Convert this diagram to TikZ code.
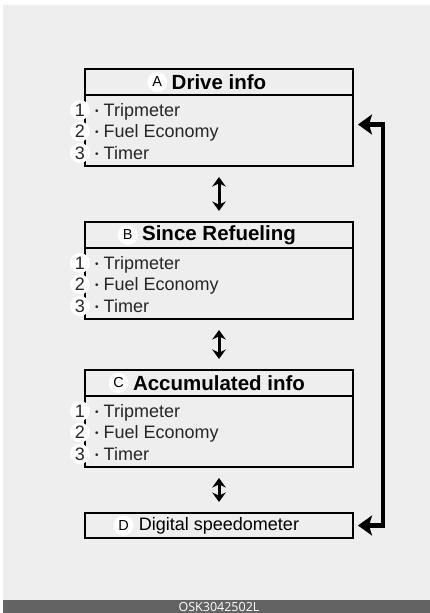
\documentclass[tikz,border=0pt]{standalone}
\usepackage{fontspec}
\setmainfont{Liberation Sans}
\newfontfamily\codefont{Open Sans}
\usetikzlibrary{arrows.meta, positioning}

\definecolor{panelgray}{HTML}{EEEEEE}
\definecolor{bargray}{HTML}{636363}
\newcommand\bul{\raisebox{1.9pt}{\fontsize{10}{10}\selectfont\textbullet}}

\begin{document}
\begin{tikzpicture}[
    x=1pt, y=-1pt, >=Stealth,
    headbox/.style={draw, line width=1.8pt, outer sep=0pt, inner sep=0pt,
                    minimum width=268pt, minimum height=26pt, anchor=north west},
    bodybox/.style={draw, line width=1.8pt, outer sep=0pt, inner sep=0pt,
                    minimum width=268pt, minimum height=71pt, anchor=north},
    tag/.style={circle, fill=white, inner sep=0pt, minimum size=20pt,
                font=\fontsize{14.5}{14.5}\selectfont},
    num/.style={circle, fill=white, inner sep=0pt, minimum size=20pt,
                font=\fontsize{18}{18}\selectfont, text=black!85},
    item/.style={anchor=base west, inner sep=0pt, text=black!85,
                 font=\fontsize{18}{18}\selectfont},
    title/.style={inner sep=0pt, font=\bfseries\fontsize{20.5}{21}\selectfont},
    updown/.style={<->, line width=3pt, shorten <=11pt, shorten >=11pt,
                   >={Stealth[length=9.5pt, width=13.5pt]}},
    feedback/.style={<->, line width=4.5pt,
                     >={Stealth[length=14pt, width=20pt, inset=3pt]}}
  ]
  \useasboundingbox (0,0) rectangle (430,613);
  \fill[panelgray] (3,5) rectangle (430,600);
  \fill[bargray] (3,600) rectangle (430,613);

  % Panels A, B, C
  \foreach \p/\top/\name in {A/69/Drive info, B/222/Since Refueling,
                             C/370/Accumulated info} {
    \node[headbox] (head\p) at (85,\top) {};
    \node[bodybox] (body\p) at (head\p.south) {};
    \node[title] (title\p) at (head\p.center) {\name};
    \node[tag, left=4pt of title\p] (tag\p) {\p};
    \foreach \n/\txt in {1/Tripmeter, 2/Fuel Economy, 3/Timer} {
      \path (body\p.north west) ++(-5, 21.5*\n-6.5) node[num] (num\p\n) {\n};
      \path (body\p.north west) ++(10, 21.5*\n-0.5) node[item] (item\p\n) {\bul\ \txt};
    }
  }

  % Panel D
  \node[headbox, minimum height=25pt] (boxD) at (85,513) {};
  \node[inner sep=0pt, font=\fontsize{18}{18}\selectfont] (titleD) at (boxD.center) {Digital speedometer};
  \node[tag, left=5pt of titleD] (tagD) {D};

  % Switching arrows
  \draw[updown] (bodyA.south) -- (headB.north);
  \draw[updown] (bodyB.south) -- (headC.north);
  \draw[updown] (bodyC.south) -- (boxD.north);

  % Return path
  \coordinate (rail) at (383,0);
  \coordinate (portA) at ([xshift=5pt, yshift=6pt]bodyA.east);
  \coordinate (portD) at ([xshift=5pt]boxD.east);
  \draw[feedback] (portA) -- (portA -| rail) -- (rail |- portD) -- (portD);

  \node[inner sep=0pt, anchor=base, text=white, font=\codefont\fontsize{12.5}{13}\selectfont] (code) at (219,611.3) {OSK3042502L};
\end{tikzpicture}
\end{document}
